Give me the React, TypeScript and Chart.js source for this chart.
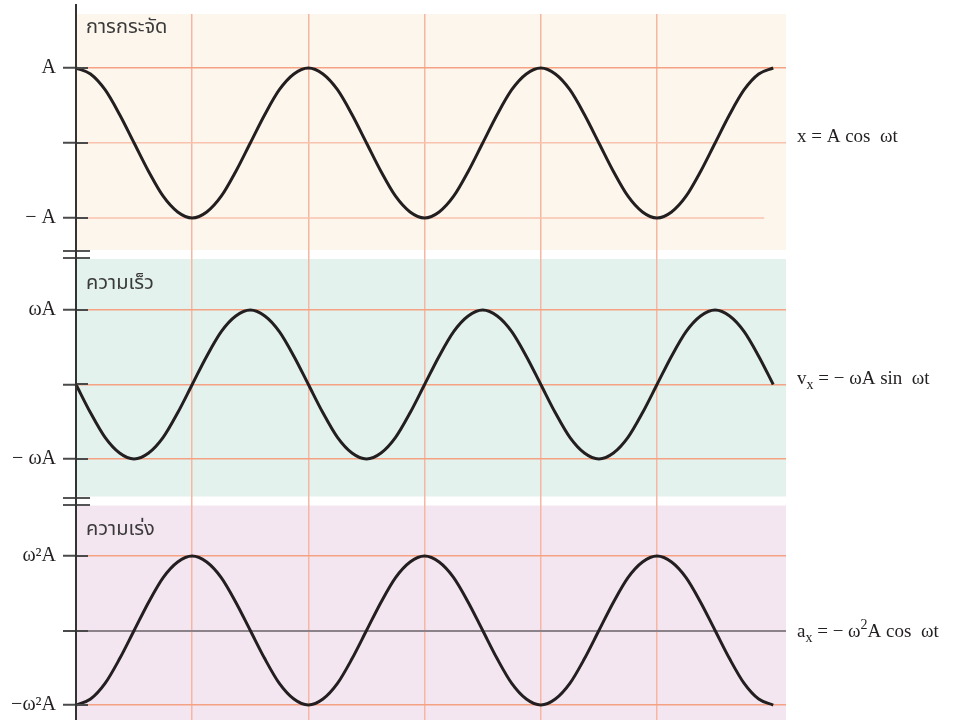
import React, { useEffect, useRef } from 'react';
import { Chart, registerables } from 'chart.js';

Chart.register(...registerables);

// time in units of half a period (π / ω)
const timeSteps = [
  0, 0.125, 0.25, 0.375, 0.5, 0.625, 0.75, 0.875,
  1, 1.125, 1.25, 1.375, 1.5, 1.625, 1.75, 1.875,
  2, 2.125, 2.25, 2.375, 2.5, 2.625, 2.75, 2.875,
  3, 3.125, 3.25, 3.375, 3.5, 3.625, 3.75, 3.875,
  4, 4.125, 4.25, 4.375, 4.5, 4.625, 4.75, 4.875,
  5, 5.125, 5.25, 5.375, 5.5, 5.625, 5.75, 5.875,
  6,
];

// x / A
const displacement = [
  1, 0.92, 0.71, 0.38, 0, -0.38, -0.71, -0.92, -1, -0.92, -0.71, -0.38, 0, 0.38, 0.71, 0.92,
  1, 0.92, 0.71, 0.38, 0, -0.38, -0.71, -0.92, -1, -0.92, -0.71, -0.38, 0, 0.38, 0.71, 0.92,
  1, 0.92, 0.71, 0.38, 0, -0.38, -0.71, -0.92, -1, -0.92, -0.71, -0.38, 0, 0.38, 0.71, 0.92,
  1,
];

// v / (ωA)
const velocity = [
  0, -0.38, -0.71, -0.92, -1, -0.92, -0.71, -0.38, 0, 0.38, 0.71, 0.92, 1, 0.92, 0.71, 0.38,
  0, -0.38, -0.71, -0.92, -1, -0.92, -0.71, -0.38, 0, 0.38, 0.71, 0.92, 1, 0.92, 0.71, 0.38,
  0, -0.38, -0.71, -0.92, -1, -0.92, -0.71, -0.38, 0, 0.38, 0.71, 0.92, 1, 0.92, 0.71, 0.38,
  0,
];

// a / (ω²A)
const acceleration = [
  -1, -0.92, -0.71, -0.38, 0, 0.38, 0.71, 0.92, 1, 0.92, 0.71, 0.38, 0, -0.38, -0.71, -0.92,
  -1, -0.92, -0.71, -0.38, 0, 0.38, 0.71, 0.92, 1, 0.92, 0.71, 0.38, 0, -0.38, -0.71, -0.92,
  -1, -0.92, -0.71, -0.38, 0, 0.38, 0.71, 0.92, 1, 0.92, 0.71, 0.38, 0, -0.38, -0.71, -0.92,
  -1,
];

const gridTimes = [1, 2, 3, 4, 5];
const tickValues = [-1, 0, 1];

const panelTitles = ['การกระจัด', 'ความเร็ว', 'ความเร่ง'];
const tickLabels1 = ['− A', '', 'A'];
const tickLabels2 = ['− ωA', '', 'ωA'];
const tickLabels3 = ['−ω²A', '', 'ω²A'];

type Seg = [string, 'n' | 'sub' | 'sup'];
const equation1: Seg[] = [['x = A cos  ωt', 'n']];
const equation2: Seg[] = [['v', 'n'], ['x', 'sub'], [' = − ωA sin  ωt', 'n']];
const equation3: Seg[] = [['a', 'n'], ['x', 'sub'], [' = − ω', 'n'], ['2', 'sup'], ['A cos  ωt', 'n']];

const panelBg = ['#fdf6ec', '#e4f2ed', '#f4e6f1'];
const SALMON = '#f4a184';
const SALMON_LIGHT = '#f8c2ae';
const VGRID = '#f7b6a1';
const SERIF = "'Liberation Serif', 'Times New Roman', serif";
const SANS = "'Noto Sans Thai', 'Noto Sans', 'DejaVu Sans', sans-serif";

const scaleIds = ['y1', 'y2', 'y3'];
const equations = [equation1, equation2, equation3];
const titleOffsets = [15, 26, 25];
const eqBaselineOffsets = [-1, 0, 6];

function yScale(min: number, max: number, weight: number, labels: string[], colors: string[], widths: number[]) {
  return {
    type: 'linear',
    position: 'left',
    stack: 'panels',
    stackWeight: weight,
    min,
    max,
    afterBuildTicks: (s: any) => {
      s.ticks = tickValues.map((v) => ({ value: v }));
    },
    afterFit: (s: any) => {
      s.width = 76;
      s.paddingTop = 0;
      s.paddingBottom = 0;
    },
    border: { display: false },
    grid: {
      color: (c: any) => colors[c.index],
      lineWidth: (c: any) => widths[c.index],
      drawTicks: true,
      tickLength: 13,
      tickColor: '#4a4a4a',
      tickWidth: 2,
    },
    ticks: {
      autoSkip: false,
      padding: 7,
      color: '#231f20',
      font: { family: SERIF, size: 20 },
      callback: (_v: any, i: number) => labels[i],
    },
  };
}

const decorPlugin = {
  id: 'decor',
  beforeDraw(chart: any) {
    const ctx = chart.ctx;
    const { left, right } = chart.chartArea;
    scaleIds.forEach((id, i) => {
      const s = chart.scales[id];
      const top = s.top + (i > 0 ? 4.5 : 0);
      const bottom = s.bottom - (i < 2 ? 4.5 : 0);
      ctx.save();
      ctx.fillStyle = panelBg[i];
      ctx.fillRect(left + 1, top, right - left - 1, bottom - top);
      ctx.restore();
    });
  },
  beforeDatasetsDraw(chart: any) {
    // the lower gridline of the first panel stops short of the panel edge
    const ctx = chart.ctx;
    const s = chart.scales.y1;
    const y = s.getPixelForValue(-1);
    ctx.save();
    ctx.strokeStyle = SALMON_LIGHT;
    ctx.lineWidth = 1.5;
    ctx.beginPath();
    ctx.moveTo(chart.chartArea.left, y);
    ctx.lineTo(chart.scales.x.getPixelForValue(6) - 9, y);
    ctx.stroke();
    ctx.restore();
  },
  afterDraw(chart: any) {
    const ctx = chart.ctx;
    const { left, bottom } = chart.chartArea;
    ctx.save();
    // inner tick stubs
    ctx.strokeStyle = '#4a4a4a';
    ctx.lineWidth = 2;
    scaleIds.forEach((id) => {
      const s = chart.scales[id];
      tickValues.forEach((v) => {
        const y = Math.round(s.getPixelForValue(v));
        ctx.beginPath();
        ctx.moveTo(left, y);
        ctx.lineTo(left + 12, y);
        ctx.stroke();
      });
    });
    // break marks
    ctx.strokeStyle = '#555';
    ctx.lineWidth = 2;
    [chart.scales.y1.bottom, chart.scales.y2.bottom].forEach((b: number) => {
      [b - 3.5, b + 3.5].forEach((y) => {
        ctx.beginPath();
        ctx.moveTo(63, Math.round(y));
        ctx.lineTo(90, Math.round(y));
        ctx.stroke();
      });
    });
    // vertical axis line
    ctx.strokeStyle = '#333';
    ctx.lineWidth = 2;
    ctx.beginPath();
    ctx.moveTo(left, 4);
    ctx.lineTo(left, bottom);
    ctx.stroke();
    // titles
    ctx.fillStyle = '#3a3a3a';
    ctx.font = `20px ${SANS}`;
    ctx.textBaseline = 'middle';
    ctx.textAlign = 'left';
    scaleIds.forEach((id, i) => {
      const s = chart.scales[id];
      const top = s.top + (i > 0 ? 4.5 : 0);
      ctx.fillText(panelTitles[i], left + 10, top + titleOffsets[i]);
    });
    // equations
    ctx.fillStyle = '#231f20';
    ctx.textBaseline = 'alphabetic';
    scaleIds.forEach((id, i) => {
      const s = chart.scales[id];
      const base = s.getPixelForValue(0) + eqBaselineOffsets[i];
      let x = 797;
      equations[i].forEach(([text, kind]) => {
        if (kind === 'n') {
          ctx.font = `19px ${SERIF}`;
          ctx.fillText(text, x, base);
        } else if (kind === 'sub') {
          ctx.font = `14px ${SERIF}`;
          ctx.fillText(text, x, base + 5);
        } else {
          ctx.font = `14px ${SERIF}`;
          ctx.fillText(text, x, base - 8);
        }
        x += ctx.measureText(text).width;
      });
    });
    ctx.restore();
  },
};

export default function App() {
  const ref = useRef<HTMLCanvasElement | null>(null);

  useEffect(() => {
    if (!ref.current) return;
    const line = {
      borderColor: '#231f20',
      borderWidth: 3,
      pointRadius: 0,
      cubicInterpolationMode: 'monotone',
      fill: false,
      clip: false,
    };
    const chart = new Chart(ref.current, {
      type: 'line',
      data: {
        labels: timeSteps,
        datasets: [
          { ...line, label: 'การกระจัด', data: displacement, yAxisID: 'y1', xAxisID: 'x' },
          { ...line, label: 'ความเร็ว', data: velocity, yAxisID: 'y2', xAxisID: 'x' },
          { ...line, label: 'ความเร่ง', data: acceleration, yAxisID: 'y3', xAxisID: 'x' },
        ],
      } as any,
      options: {
        animation: false,
        responsive: false,
        events: [],
        layout: { padding: { top: 14, right: 167, bottom: 0, left: 0 } },
        plugins: { legend: { display: false }, tooltip: { enabled: false }, title: { display: false } },
        scales: {
          x: {
            type: 'linear',
            position: 'bottom',
            min: 0,
            max: 6.11,
            afterBuildTicks: (s: any) => {
              s.ticks = gridTimes.map((v) => ({ value: v }));
            },
            afterFit: (s: any) => {
              s.height = 0;
              s.paddingLeft = 0;
              s.paddingRight = 0;
            },
            border: { display: false },
            grid: { color: VGRID, lineWidth: 1.5, drawTicks: false },
            ticks: { display: false },
          },
          // left-stacked boxes are laid out in reverse order, so the bottom panel comes first
          y3: yScale(-1.201, 1.738, 219, tickLabels3, [SALMON, '#8c8289', SALMON], [1.5, 2, 1.5]),
          y2: yScale(-1.564, 1.745, 246.5, tickLabels2, [SALMON, SALMON, SALMON], [1.5, 1.5, 1.5]),
          y1: yScale(-1.487, 1.72, 240.5, tickLabels1, ['rgba(0,0,0,0)', SALMON_LIGHT, SALMON], [1.5, 1.5, 1.5]),
        } as any,
      },
      plugins: [decorPlugin],
    });
    return () => chart.destroy();
  }, []);

  return (
    <div style={{ position: 'absolute', left: 0, top: 0, width: 953, height: 720, background: '#fff' }}>
      <canvas ref={ref} width={953} height={720} style={{ display: 'block' }} />
    </div>
  );
}
